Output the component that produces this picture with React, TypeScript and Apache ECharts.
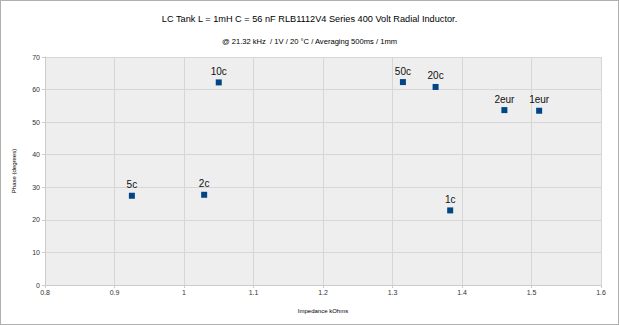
import React, { useEffect, useRef } from "react";
import * as echarts from "echarts";

const coinLabels = ["5c", "2c", "10c", "50c", "20c", "1c", "2eur", "1eur"];
const impedanceKOhms = [0.925, 1.029, 1.05, 1.315, 1.362, 1.383, 1.461, 1.511];
const phaseDegrees = [27.4, 27.7, 62.2, 62.3, 60.8, 22.9, 53.7, 53.5];

const titleText = "LC Tank L = 1mH C = 56 nF RLB1112V4 Series 400 Volt Radial Inductor.";
const subtitleText = "@ 21.32 kHz  / 1V / 20 \u00B0C / Averaging 500ms / 1mm";

export default function App() {
  const ref = useRef<HTMLDivElement>(null);
  useEffect(() => {
    if (!ref.current) return;
    const chart = echarts.init(ref.current, undefined, { renderer: "svg" });
    const font = "'Liberation Sans', Arial, sans-serif";
    chart.setOption({
      animation: false,
      backgroundColor: "#ffffff",
      textStyle: { fontFamily: font },
      title: [
        {
          text: titleText,
          left: "center",
          top: 8,
          textStyle: { fontSize: 9.2, fontWeight: "normal", color: "#000", fontFamily: font },
        },
        {
          text: subtitleText,
          left: "center",
          top: 31,
          textStyle: { fontSize: 7.6, fontWeight: "normal", color: "#000", fontFamily: font },
        },
      ],
      grid: { left: 44, right: 17, top: 56, bottom: 39, show: true, backgroundColor: "#eeeeee", borderWidth: 0 },
      xAxis: {
        type: "value",
        min: 0.8,
        max: 1.6,
        interval: 0.1,
        name: "Impedance kOhms",
        nameLocation: "middle",
        nameGap: 23,
        nameTextStyle: { fontSize: 6, color: "#000", fontFamily: font },
        axisLine: { show: true, lineStyle: { color: "#cccccc" } },
        axisTick: { show: true, length: 3, lineStyle: { color: "#cccccc" } },
        axisLabel: {
          fontSize: 7,
          color: "#333",
          margin: 4,
          formatter: (v: number) => String(Math.round(v * 10) / 10),
        },
        splitLine: { show: true, lineStyle: { color: "#d6d6d6", width: 1 } },
      },
      yAxis: {
        type: "value",
        min: 0,
        max: 70,
        interval: 10,
        name: "Phase (degrees)",
        nameLocation: "middle",
        nameGap: 28,
        nameRotate: 90,
        nameTextStyle: { fontSize: 6, color: "#000", fontFamily: font },
        axisLine: { show: true, lineStyle: { color: "#cccccc" } },
        axisTick: { show: true, length: 3, lineStyle: { color: "#cccccc" } },
        axisLabel: { fontSize: 7, color: "#333", margin: 5 },
        splitLine: { show: true, lineStyle: { color: "#d6d6d6", width: 1 } },
      },
      series: [
        {
          type: "scatter",
          symbol: "rect",
          symbolSize: 6,
          itemStyle: { color: "#004586", opacity: 1 },
          data: impedanceKOhms.map((x, i) => ({ value: [x, phaseDegrees[i]], name: coinLabels[i] })),
          label: {
            show: true,
            position: "top",
            distance: 3,
            formatter: (p: any) => p.name,
            fontSize: 10,
            color: "#111",
            opacity: 1,
            fontFamily: font,
          },
        },
      ],
    });
    return () => chart.dispose();
  }, []);
  return (
    <div
      style={{
        position: "fixed",
        left: 0,
        top: 0,
        width: 619,
        height: 325,
        boxSizing: "border-box",
        border: "1px solid #b0b0b0",
        background: "#fff",
      }}
    >
      <div ref={ref} style={{ width: 617, height: 323 }} />
    </div>
  );
}
